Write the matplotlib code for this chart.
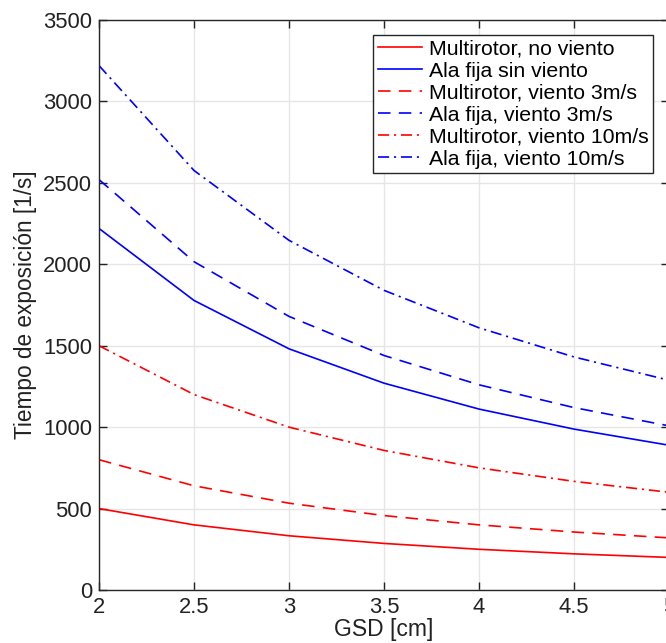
import matplotlib
matplotlib.use("Agg")
import matplotlib.pyplot as plt

plt.rcParams['font.family'] = ['Liberation Sans', 'DejaVu Sans']
plt.rcParams['lines.scale_dashes'] = False

gsd = [2, 2.5, 3, 3.5, 4, 4.5, 5]
multi_no = [500, 400, 333, 286, 250, 222, 200]
fija_no = [2220, 1778, 1481, 1270, 1111, 988, 889]
multi_3 = [800, 640, 533, 457, 400, 356, 320]
fija_3 = [2520, 2016, 1680, 1440, 1260, 1120, 1008]
multi_10 = [1500, 1200, 1000, 857, 750, 667, 600]
fija_10 = [3220, 2576, 2147, 1840, 1610, 1431, 1288]

labels = ["Multirotor, no viento", "Ala fija sin viento", "Multirotor, viento 3m/s",
          "Ala fija, viento 3m/s", "Multirotor, viento 10m/s", "Ala fija, viento 10m/s"]
xticks = [2, 2.5, 3, 3.5, 4, 4.5, 5]
yticks = [0, 500, 1000, 1500, 2000, 2500, 3000, 3500]

W, H = 666, 643
fig = plt.figure(figsize=(W/100, H/100), dpi=100)
ax = fig.add_axes([99/W, 53/H, 570/W, 570/H])

red = '#ff0000'
blue = '#0000ff'
lw = 1.2
dash = (0, (9, 6))
dashdot = (0, (8, 3.5, 1.5, 3.5))
ax.plot(gsd, multi_no, color=red, lw=lw, ls='-', label=labels[0])
ax.plot(gsd, fija_no, color=blue, lw=lw, ls='-', label=labels[1])
ax.plot(gsd, multi_3, color=red, lw=lw, ls=dash, label=labels[2])
ax.plot(gsd, fija_3, color=blue, lw=lw, ls=dash, label=labels[3])
ax.plot(gsd, multi_10, color=red, lw=lw, ls=dashdot, label=labels[4])
ax.plot(gsd, fija_10, color=blue, lw=lw, ls=dashdot, label=labels[5])

fs = 15.8
ax.set_xlim(2, 5)
ax.set_ylim(0, 3500)
ax.set_xticks(xticks)
ax.set_xticklabels(['2', '2.5', '3', '3.5', '4', '4.5', '5'])
ax.set_yticks(yticks)
ax.grid(True, color='#e6e6e6', lw=1.0)
ax.set_axisbelow(True)
ax.tick_params(direction='in', top=True, right=True, length=6, width=1.0,
               labelsize=fs, colors='#222222', pad=5)
for s in ax.spines.values():
    s.set_linewidth(1.0)
    s.set_color('#262626')

ax.set_xlabel('GSD [cm]', fontsize=16.5, color='#222222', labelpad=0)
ax.set_ylabel('Tiempo de exposición [1/s]', fontsize=16.3, color='#222222', labelpad=4)

lfs = 15.3
leg = ax.legend(loc='upper right', bbox_to_anchor=(653/W, 1-35/H),
                bbox_transform=fig.transFigure, borderaxespad=0,
                fancybox=False, framealpha=1, edgecolor='#262626',
                fontsize=lfs, handlelength=2.1, handletextpad=0.3,
                labelspacing=0.14, borderpad=0.22)
leg.get_frame().set_linewidth(1.0)

fig.savefig('out.png', dpi=100)
